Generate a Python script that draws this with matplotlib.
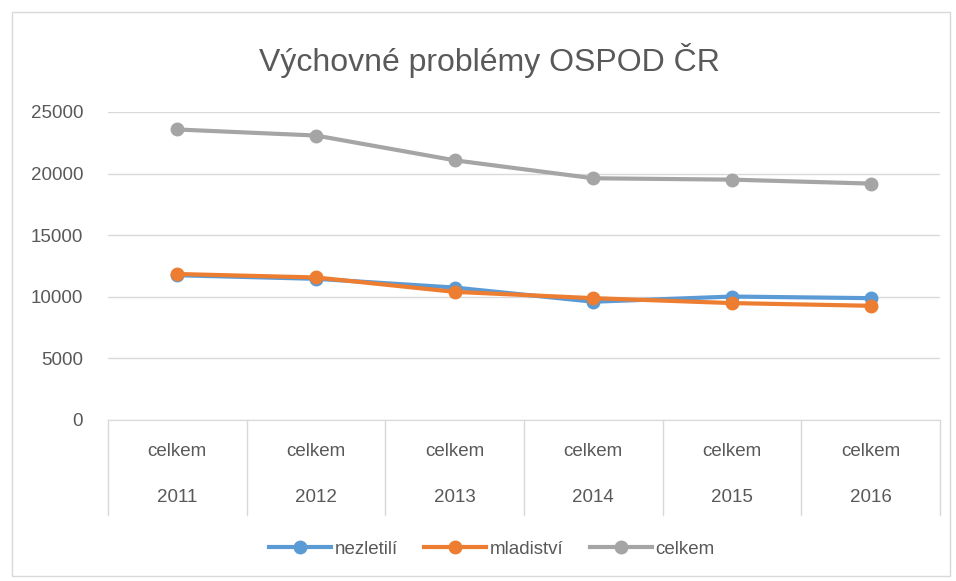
import matplotlib
matplotlib.use("Agg")
import matplotlib.pyplot as plt
import matplotlib.transforms as mtransforms
from matplotlib.patches import Rectangle

years = ["2011", "2012", "2013", "2014", "2015", "2016"]
sublabels = ["celkem"] * 6
nezletili = [11750, 11460, 10750, 9600, 10020, 9890]
mladistvi = [11850, 11570, 10400, 9890, 9490, 9270]
celkem = [23580, 23090, 21080, 19620, 19510, 19190]
yticks = [0, 5000, 10000, 15000, 20000, 25000]

plt.rcParams['font.family'] = ['Liberation Sans', 'DejaVu Sans']
txt = '#595959'

fig = plt.figure(figsize=(9.56, 5.81), dpi=100)
fig.patches.append(Rectangle((12/956, 1-576/581), 938/956, 564/581, transform=fig.transFigure,
                             fill=False, edgecolor='#D9D9D9', linewidth=1))
ax = fig.add_axes([108/956, 1-420/581, 832/956, 308/581])

x = list(range(len(years)))
ax.plot(x, nezletili, color='#5B9BD5', lw=3.0, marker='o', ms=9, label='nezletilí', zorder=3)
ax.plot(x, mladistvi, color='#ED7D31', lw=3.0, marker='o', ms=9, label='mladiství', zorder=4)
ax.plot(x, celkem, color='#A5A5A5', lw=3.0, marker='o', ms=9, label='celkem', zorder=3)

ax.set_xlim(-0.5, len(years) - 0.5)
ax.set_ylim(0, 25000)
ax.set_yticks(yticks)
ax.set_yticklabels([str(v) for v in yticks], color=txt, fontsize=13.5)
ax.tick_params(axis='y', length=0, pad=18)
ax.set_xticks([])
ax.grid(axis='y', color='#D9D9D9', lw=1)
for s in ['top', 'right', 'left']:
    ax.spines[s].set_visible(False)
ax.spines['bottom'].set_color('#D9D9D9')
ax.set_axisbelow(True)

trans = mtransforms.blended_transform_factory(ax.transData, ax.transAxes)
depth = 95 / 308
for i in range(len(years) + 1):
    ax.plot([i - 0.5, i - 0.5], [0, -depth], transform=trans, color='#D9D9D9', lw=1, clip_on=False)
for i in range(len(years)):
    ax.text(i, -32/308, sublabels[i], transform=trans, ha='center', va='center', color=txt, fontsize=13.5)
    ax.text(i, -77/308, years[i], transform=trans, ha='center', va='center', color=txt, fontsize=13.5)

fig.text(489/956, 1-60/581, 'Výchovné problémy OSPOD ČR', ha='center', va='center', color=txt, fontsize=23)

fig.legend(loc='center', bbox_to_anchor=(492/956, 1-549/581), ncol=3, frameon=False,
           fontsize=13.5, labelcolor=txt, handlelength=3.3, columnspacing=1.4, handletextpad=0.2)

fig.savefig('out.png', dpi=100)
